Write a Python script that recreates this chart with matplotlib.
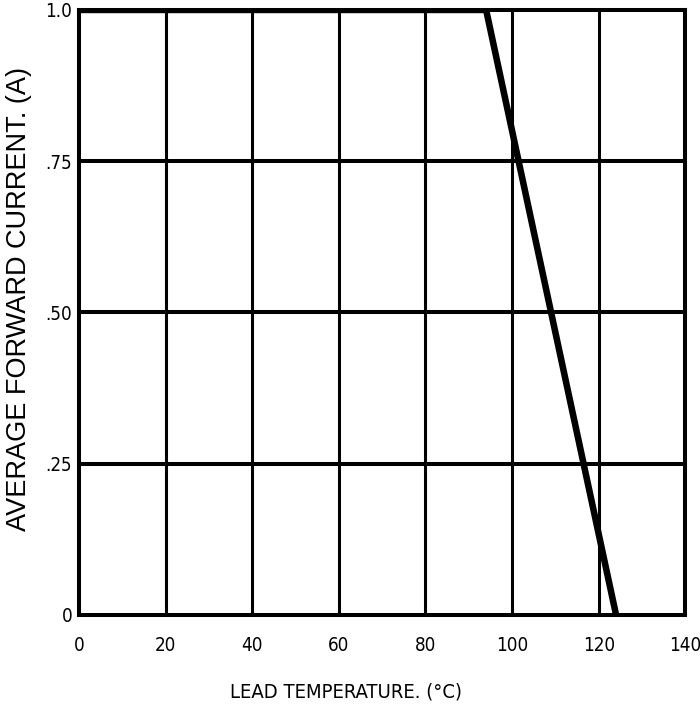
import matplotlib
matplotlib.use('Agg')
import matplotlib.pyplot as plt

# derating curve
temp = [0, 94, 124]
current = [1.0, 1.0, 0.0]

xticks = [0, 20, 40, 60, 80, 100, 120, 140]
yticks = [0, 0.25, 0.50, 0.75, 1.0]
ylabels = ['0', '.25', '.50', '.75', '1.0']

plt.rcParams['font.family'] = ['DejaVu Sans']
plt.rcParams['font.stretch'] = 'condensed'

fig = plt.figure(figsize=(7, 7.09), dpi=100)
ax = fig.add_axes([0.113, 0.133, 0.866, 0.853])

ax.plot(temp, current, color='black', lw=4.7, solid_capstyle='butt', zorder=5)

ax.set_xlim(0, 140)
ax.set_ylim(0, 1.0)
ax.set_xticks(xticks)
ax.set_xticklabels([str(t) for t in xticks])
ax.set_yticks(yticks)
ax.set_yticklabels(ylabels)
ax.tick_params(length=0, labelsize=13.5)
ax.tick_params(axis='x', pad=15)
ax.tick_params(axis='y', pad=5)

for t in xticks[1:-1]:
    ax.axvline(t, color='black', lw=2.2, zorder=1)
for c in yticks[1:-1]:
    ax.axhline(c, color='black', lw=2.9, zorder=1)
for s in ax.spines.values():
    s.set_linewidth(2.9)

ax.set_xlabel('LEAD TEMPERATURE. (°C)', fontsize=14.5)
ax.xaxis.set_label_coords(0.44, -0.127)
ax.xaxis.label.set_verticalalignment('center')

ax.set_ylabel('AVERAGE FORWARD CURRENT. (A)', fontsize=19.5,
              family='Liberation Sans', stretch='normal')
ax.yaxis.set_label_coords(-0.099, 0.522)
ax.yaxis.label.set_verticalalignment('center')

fig.savefig('out.png')
